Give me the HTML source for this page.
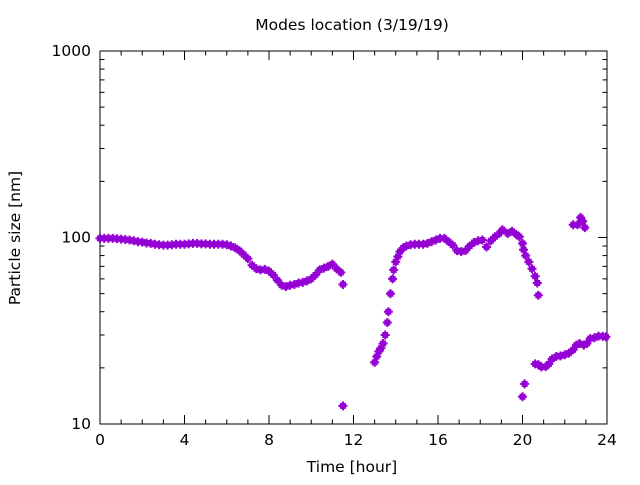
<!DOCTYPE html>
<html><head><meta charset="utf-8"><style>
html,body{margin:0;padding:0;background:#fff;}
svg text{font-family:"DejaVu Sans","Liberation Sans",sans-serif;fill:#000;}
</style></head><body>
<svg id="chart" width="640" height="480" viewBox="0 0 640 480" xmlns="http://www.w3.org/2000/svg">
<rect width="640" height="480" fill="#fff"/>
<text x="352" y="30" font-size="15.5" text-anchor="middle">Modes location (3/19/19)</text>
<g id="axes"></g>
<g id="marks"></g>
<text x="352" y="472" font-size="15.5" text-anchor="middle">Time [hour]</text>
<text x="20" y="238" font-size="15.5" text-anchor="middle" transform="rotate(-90 20 238)">Particle size [nm]</text>
</svg>
<script>
const xTicks = [0,4,8,12,16,20,24];
const yTicks = [10,100,1000];
const times = [0,0.2,0.4,0.6,0.8,1.0,1.2,1.4,1.6,1.8,2.0,2.2,2.4,2.6,2.8,3.0,3.2,3.4,3.6,3.8,4.0,4.2,4.4,4.6,4.8,5.0,5.2,5.4,5.6,5.8,6.0,6.2,6.4,6.6,6.8,7.0,7.2,7.4,7.6,7.8,8.0,8.2,8.4,8.6,8.8,9.0,9.2,9.4,9.6,9.8,10.0,10.2,10.4,10.6,10.8,11.0,11.2,11.4,11.5,11.5,
13.0,13.1,13.2,13.3,13.4,13.5,13.6,13.65,13.75,13.85,13.9,14.0,14.1,14.2,14.35,14.5,14.7,14.9,15.1,15.3,15.5,15.7,15.9,16.1,16.3,16.5,16.7,16.9,17.1,17.3,17.5,17.7,17.9,18.1,18.3,18.5,18.7,18.9,19.05,19.3,19.5,19.7,19.85,20.0,20.05,20.15,20.3,20.45,20.6,20.7,20.75,
20.0,20.1,20.6,20.75,20.9,21.1,21.25,21.4,21.6,21.8,22.0,22.2,22.4,22.55,22.7,22.9,23.05,23.2,23.4,23.6,23.8,23.95,
22.4,22.6,22.75,22.85,22.95];
const sizes = [99,99,99,99,98.5,98,97.5,97,96,95,94.5,93.5,93,92,91.5,91,91,91.5,92,92,92,92.5,93,93,92.5,92.5,92,92,92,92,91.5,90,88,85,81,77,71,68,67,67.5,66,63,59,55.5,54.5,55.5,56,57,57.5,58.5,60,63,67,68.5,70,72,68,65,56,12.5,
21.4,23,24.5,25.5,27,30,35,40,50,60,67,74,79,84,88,90,91.5,92,92,92,93,95,97,99,99,95,91,85,84,85,90,94,96,97,89,96,101,105,110,105,108,104,101,93,86,80,74,68,62,57,49,
14,16.4,21,20.8,20.2,20.3,21,22.3,23,23.2,23.5,24,25,26.5,27,26.5,27,28.7,29,29.6,29.5,29.3,
117,117,128,122,113];
const L=100,R=607,T=51,B=424;
const NS='http://www.w3.org/2000/svg';
function xs(h){return L+(h-0)/(24-0)*(R-L);}
function ys(v){return B-(Math.log10(v)-1)/2*(B-T);}
const axes=document.getElementById('axes');
function mk(tag,attrs,parent){const e=document.createElementNS(NS,tag);for(const k in attrs)e.setAttribute(k,attrs[k]);parent.appendChild(e);return e;}
for(let h=0;h<=24;h++){
  const x=xs(h), len=(h%4===0)?9:4.5;
  const t1=mk('line',{x1:x,y1:B,x2:x,y2:B-len,stroke:'#000','stroke-width':1},axes);
  
  
  const t2=mk('line',{x1:x,y1:T,x2:x,y2:T+len,stroke:'#000','stroke-width':1},axes);
  
  
}
xTicks.forEach(h=>{
  const t=mk('text',{x:xs(h),y:B+21,'font-size':15.5,'text-anchor':'middle'},axes);
  t.textContent=h;
  
  
});
for(let d=10;d<1000;d*=10){
  for(let m=1;m<10;m++){
    const v=d*m,y=ys(v),len=(m===1)?9:4.5;
    const a=mk('line',{x1:L,y1:y,x2:L+len,y2:y,stroke:'#000','stroke-width':1},axes);
    
    
    const b=mk('line',{x1:R,y1:y,x2:R-len,y2:y,stroke:'#000','stroke-width':1},axes);
    
    
  }
}
yTicks.forEach(v=>{
  const t=mk('text',{x:L-9,y:ys(v)+5,'font-size':15.5,'text-anchor':'end'},axes);
  t.textContent=v;
  
  
});
const fr=mk('rect',{x:L,y:T,width:R-L,height:B-T,fill:'none',stroke:'#000','stroke-width':1},axes);


const marks=document.getElementById('marks');
for(let i=0;i<times.length;i++){
  const cx=xs(times[i]),cy=ys(sizes[i]);
  const g=mk('g',{fill:'#9400d3',stroke:'#9400d3'},marks);
  
  
  mk('rect',{x:cx-3,y:cy-3,width:6,height:6,'stroke-width':0},g);
  mk('path',{d:`M${cx-4.5},${cy}H${cx+4.5}M${cx},${cy-4.5}V${cy+4.5}`,'stroke-width':2,fill:'none'},g);
}
</script>
</body></html>
